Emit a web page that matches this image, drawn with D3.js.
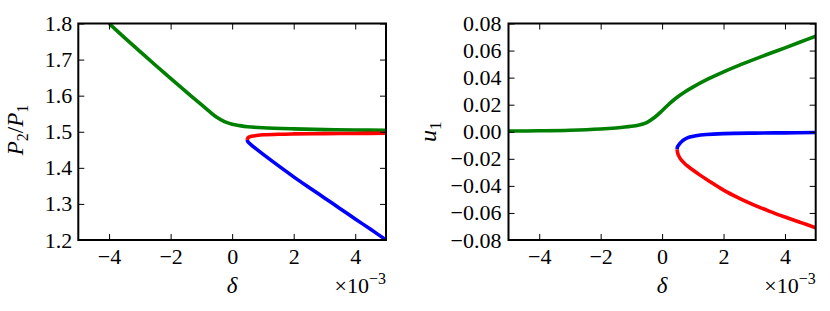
<!DOCTYPE html>
<html>
<head>
<meta charset="utf-8">
<script src="https://cdn.jsdelivr.net/npm/d3@7"></script>
<style>
  html, body { margin: 0; padding: 0; background: #fff; }
  svg { display: block; }
  text { font-family: "Liberation Serif", "Times New Roman", serif; fill: #000; }
</style>
</head>
<body>
<svg id="chart" width="830" height="311"></svg>
<script>
// ---------------- data (delta in units of 1e-3) ----------------
const xTicks = [-4, -2, 0, 2, 4];
const leftYTicks = [1.2, 1.3, 1.4, 1.5, 1.6, 1.7, 1.8];
const rightYTicks = [-0.08, -0.06, -0.04, -0.02, 0.00, 0.02, 0.04, 0.06, 0.08];

// Left panel: P2/P1
const leftGreenX = [-4, -3.5, -3, -2.5, -2, -1.5, -1, -0.75, -0.5, -0.25, 0, 0.25, 0.5, 1, 2, 3, 4, 5];
const leftGreenY = [1.800, 1.761, 1.723, 1.685, 1.648, 1.611, 1.575, 1.557, 1.540, 1.528, 1.521, 1.517, 1.514, 1.511, 1.508, 1.506, 1.505, 1.504];
const leftRedX = [0.49, 0.50, 0.53, 0.60, 0.70, 0.85, 1.0, 1.5, 2, 3, 4, 5];
const leftRedY = [1.4775, 1.4810, 1.4840, 1.4868, 1.4885, 1.4905, 1.4915, 1.4932, 1.4940, 1.4948, 1.4953, 1.4958];
const leftBlueX = [0.49, 0.50, 0.53, 0.60, 0.75, 1.0, 1.5, 2.0, 2.5, 3.0, 3.5, 4.0, 4.5, 5.0];
const leftBlueY = [1.4775, 1.4745, 1.4705, 1.4650, 1.4545, 1.4380, 1.4060, 1.3750, 1.3455, 1.3165, 1.2875, 1.2585, 1.2295, 1.2005];

// Right panel: u1
const rightGreenX = [-5, -4, -3, -2, -1.5, -1, -0.75, -0.5, -0.25, 0, 0.25, 0.5, 0.75, 1, 1.5, 2, 2.5, 3, 3.5, 4, 4.5, 5];
const rightGreenY = [0.0005, 0.0007, 0.0011, 0.0020, 0.0028, 0.0040, 0.0050, 0.0068, 0.0105, 0.0155, 0.0210, 0.0257, 0.0296, 0.0330, 0.0390, 0.0443, 0.0491, 0.0535, 0.0578, 0.0620, 0.0663, 0.0707];
const rightBlueX = [0.49, 0.50, 0.55, 0.63, 0.75, 0.90, 1.10, 1.44, 2, 3, 4, 5];
const rightBlueY = [-0.0130, -0.0112, -0.0095, -0.0074, -0.0054, -0.0039, -0.0029, -0.0020, -0.0014, -0.0010, -0.0008, -0.0006];
const rightRedX = [0.49, 0.50, 0.53, 0.60, 0.75, 0.85, 1.0, 1.2, 1.5, 2.0, 2.5, 3.0, 3.5, 4.0, 4.5, 5.0];
const rightRedY = [-0.0130, -0.0151, -0.0173, -0.0201, -0.0238, -0.0257, -0.0283, -0.0315, -0.0360, -0.0431, -0.0490, -0.0542, -0.0588, -0.0630, -0.0670, -0.0709];

// ---------------- drawing ----------------
const svg = d3.select("#chart");
const COLORS = { green: "#008000", red: "#ff0000", blue: "#0000ff" };
const FONT = "'Liberation Serif', 'Times New Roman', serif";

function zip(xs, ys) { return xs.map((x, i) => [x, ys[i]]); }

function panel(opts) {
  const { x0, x1, y0, y1, yDomain, yTicks, yFmt, series, id, yPad } = opts;
  const xs = d3.scaleLinear().domain([-5, 5]).range([x0, x1]);
  const ys = d3.scaleLinear().domain(yDomain).range([y1, y0]);
  const g = svg.append("g");

  g.append("clipPath").attr("id", id).append("rect")
    .attr("x", x0).attr("y", y0).attr("width", x1 - x0).attr("height", y1 - y0);

  const line = d3.line().x(d => xs(d[0])).y(d => ys(d[1])).curve(d3.curveCatmullRom.alpha(0.5));
  const lines = g.append("g").attr("clip-path", `url(#${id})`);
  series.forEach(s => {
    lines.append("path").attr("d", line(zip(s.x, s.y)))
      .attr("fill", "none").attr("stroke", COLORS[s.color])
      .attr("stroke-width", 3.6).attr("stroke-linecap", "butt").attr("stroke-linejoin", "round");
  });

  const fontSize = 22;
  const styleAxis = sel => {
    sel.attr("font-family", null).attr("font-size", null);
    sel.select(".domain").remove();
    sel.selectAll(".tick line").attr("stroke", "#000").attr("stroke-width", 1);
    sel.selectAll("text").style("font-size", fontSize + "px").style("font-family", FONT).attr("fill", "#000");
  };
  const fmtX = d => d3.format("d")(d);

  g.append("g").attr("transform", `translate(0,${y1})`)
    .call(d3.axisBottom(xs).tickValues(xTicks).tickFormat(fmtX).tickSizeInner(-6).tickSizeOuter(0).tickPadding(8))
    .call(styleAxis);
  g.append("g").attr("transform", `translate(0,${y0})`)
    .call(d3.axisTop(xs).tickValues(xTicks).tickFormat("").tickSizeInner(-6).tickSizeOuter(0))
    .call(styleAxis);
  g.append("g").attr("transform", `translate(${x0},0)`)
    .call(d3.axisLeft(ys).tickValues(yTicks).tickFormat(d3.format(yFmt)).tickSizeInner(-6).tickSizeOuter(0).tickPadding(yPad))
    .call(styleAxis);
  g.append("g").attr("transform", `translate(${x1},0)`)
    .call(d3.axisRight(ys).tickValues(yTicks).tickFormat("").tickSizeInner(-6).tickSizeOuter(0))
    .call(styleAxis);

  g.append("rect").attr("x", x0).attr("y", y0).attr("width", x1 - x0).attr("height", y1 - y0)
    .attr("fill", "none").attr("stroke", "#000").attr("stroke-width", 2);

  // x label
  g.append("text").attr("x", (x0 + x1) / 2).attr("y", 293)
    .attr("text-anchor", "middle").style("font-size", "23px").style("font-style", "italic")
    .text("δ");
  // offset text
  const off = g.append("text").attr("x", x1).attr("y", 293)
    .attr("text-anchor", "end").style("font-size", "22px");
  off.append("tspan").text("×10");
  off.append("tspan").attr("dy", -9).style("font-size", "16px").text("−3");

  return { xs, ys, g };
}

panel({
  id: "clipL", x0: 78.3, x1: 386, y0: 23.5, y1: 240,
  yDomain: [1.2, 1.8], yTicks: leftYTicks, yFmt: ".1f", yPad: 6,
  series: [
    { x: leftGreenX, y: leftGreenY, color: "green" },
    { x: leftBlueX, y: leftBlueY, color: "blue" },
    { x: leftRedX, y: leftRedY, color: "red" }
  ]
});
panel({
  id: "clipR", x0: 508.5, x1: 815.7, y0: 23.5, y1: 240,
  yDomain: [-0.08, 0.08], yTicks: rightYTicks, yFmt: ".2f", yPad: 7,
  series: [
    { x: rightGreenX, y: rightGreenY, color: "green" },
    { x: rightRedX, y: rightRedY, color: "red" },
    { x: rightBlueX, y: rightBlueY, color: "blue" }
  ]
});

// y labels
const yl = svg.append("text")
  .attr("transform", "translate(23,130) rotate(-90)")
  .attr("text-anchor", "middle").style("font-size", "23px");
yl.append("tspan").style("font-style", "italic").text("P");
yl.append("tspan").attr("dy", 5).style("font-size", "16px").text("2");
yl.append("tspan").attr("dy", -5).text("/");
yl.append("tspan").style("font-style", "italic").text("P");
yl.append("tspan").attr("dy", 5).style("font-size", "16px").text("1");

const ur = svg.append("text")
  .attr("transform", "translate(436,131.7) rotate(-90)")
  .attr("text-anchor", "middle").style("font-size", "24px");
ur.append("tspan").style("font-style", "italic").text("u");
ur.append("tspan").attr("dy", 5).style("font-size", "17px").text("1");
</script>
</body>
</html>
